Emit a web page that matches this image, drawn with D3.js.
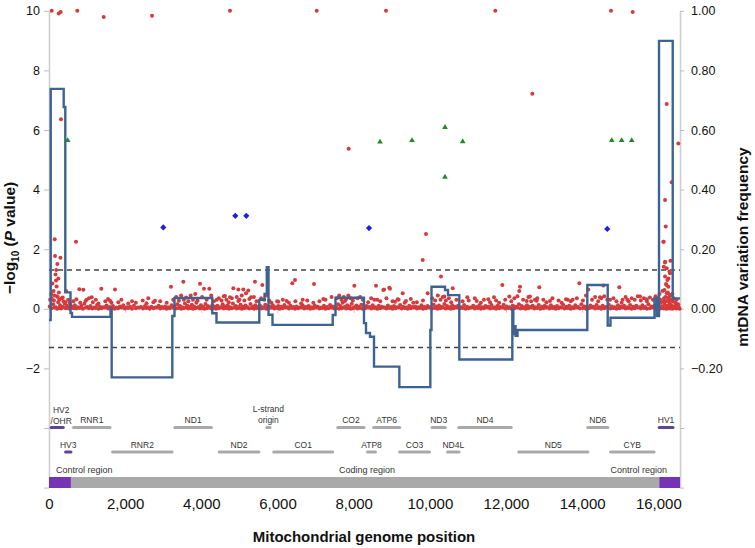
<!DOCTYPE html>
<html><head><meta charset="utf-8">
<script src="https://cdn.jsdelivr.net/npm/d3@7"></script>
<style>
body{margin:0;background:#fff}
svg{display:block}
text{font-family:"Liberation Sans",Arial,Helvetica,sans-serif}
</style>
</head><body>
<svg id="chart" width="755" height="548"></svg>
<script>
// ---------------- DATA ----------------
const genomeLength = 16569;
const xTickValues = [0, 2000, 4000, 6000, 8000, 10000, 12000, 14000, 16000];
const leftTickValues = [-6, -4, -2, 0, 2, 4, 6, 8, 10];
const rightTickValues = [-0.6, -0.4, -0.2, 0, 0.2, 0.4, 0.6, 0.8, 1.0];
const significanceLevel = 1.3; // -log10(0.05)

// scattered variant association points [position, -log10 P]
const scatterPoints = [
  [71,10.0],[255,9.91],[307,9.96],[743,10.0],[1436,9.79],[2705,9.83],[4753,10.0],[7030,10.0],
  [8849,10.0],[11719,10.0],[14757,10.0],[15327,9.96],
  [315,6.36],[7869,5.37],[12691,7.22],[16220,6.87],[16525,5.55],[16351,4.25],[16176,3.65],
  [16194,2.76],[16142,2.25],[16179,1.58],[16318,1.61],[16142,1.41],[16292,1.25],[16265,1.02],
  [16213,0.80],[16160,0.63],[16131,2.25],[16176,1.55],[16220,1.36],[16307,1.19],[16176,1.08],
  [16236,0.97],[16202,0.83],[16263,0.74],[16220,0.52],[16307,0.46],
  [150,2.33],[158,1.77],[300,1.71],[244,1.02],[709,2.25],[218,1.50],[184,0.95],[190,1.30],
  [30,0.30],[60,0.50],[90,0.85],[120,0.60],[140,0.45],[170,1.15],[200,0.75],[230,0.40],
  [260,0.55],[330,0.35],[380,0.25],[450,0.60],[500,0.30],[540,0.20],
  [9899,2.51],[9813,1.64],[10293,1.08],[5409,0.91],[5601,0.80],[6389,0.86],[6459,0.97],
  [6958,0.83],[8017,0.77],[8586,0.77],[8797,0.65],[8954,0.67],[9288,0.52],[10601,0.69],
  [11903,0.80],
  [796,0.66],[901,0.64],[1373,0.67],[1733,0.65],[3203,0.74],[3527,0.91],[3965,0.84],
  [4070,0.67],[4209,0.67],[4839,0.69],[4971,0.65],[1121,0.39],[990,0.30],[1602,0.27],
  [2607,0.35],[2783,0.27],
  [5102,0.65],[5173,0.52],[5233,0.61],[5304,0.39],[4753,0.39],[4621,0.43],[4403,0.30],
  [4971,0.26],[6021,0.24],[6662,0.30],[7203,0.33],[7772,0.26],[8542,0.30],[8778,0.63],
  [8936,0.71],[6241,0.26],
  [9086,0.24],[9156,0.32],[9374,0.26],[9566,0.20],[9944,0.52],[10380,0.41],[10984,0.39],
  [11231,0.26],[11535,0.32],[11685,0.39],[12087,0.41],[12368,0.74],[12349,0.60],[12630,0.41],
  [12543,0.26],[12806,0.27],
  [12874,0.72],[13925,0.86],[14161,0.65],[14555,0.78],[14975,0.72],[12761,0.30],[13155,0.26],
  [13575,0.32],[13751,0.30],[14468,0.39],[14731,0.30],[15185,0.30],[15519,0.41],[15695,0.32],
  [15038,0.20]
];

// variant points slightly above the baseline [position, -log10 P]
const bandUpperPoints = [
  [70,.35],[130,.28],[210,.42],[270,.3],[360,.38],[430,.22],[640,.25],[720,.32],[820,.2],[960,.26],
  [1050,.35],[1150,.22],[1230,.3],[1300,.18],[1480,.25],[1550,.33],[1640,.2],[1820,.22],[1900,.3],[2080,.18],
  [2180,.25],[2280,.2],[2460,.28],[2560,.19],[2740,.22],[2920,.25],[3090,.2],[3260,.3],[3340,.4],[3410,.27],
  [3470,.45],[3540,.3],[3600,.38],[3660,.25],[3720,.45],[3780,.3],[3840,.5],[3900,.28],[4020,.4],[4140,.3],
  [4260,.45],[4330,.25],[4460,.35],[4530,.28],[4590,.42],[4660,.3],[4720,.22],[4800,.35],[4930,.4],[5000,.3],
  [5060,.45],[5130,.28],[5260,.33],[5380,.4],[5450,.25],[5570,.35],[5650,.3],[5710,.45],[5780,.28],[5840,.2],
  [5990,.25],[6140,.3],[6300,.2],[6470,.25],[6620,.18],[6780,.28],[6940,.2],[7100,.25],[7260,.3],[7420,.4],
  [7560,.35],[7620,.45],[7680,.3],[7740,.4],[7800,.32],[7860,.45],[7920,.35],[7980,.28],[8100,.35],[8170,.4],
  [8240,.3],[8380,.22],[8460,.35],[8620,.3],[8700,.25],[8860,.35],[9020,.25],[9180,.3],[9340,.2],[9500,.33],
  [9660,.22],[9820,.28],[10060,.35],[10140,.28],[10210,.45],[10280,.3],[10340,.4],[10420,.28],[10500,.35],[10560,.22],
  [10700,.3],[10860,.25],[11020,.28],[11180,.35],[11340,.2],[11420,.3],[11580,.22],[11740,.28],[11820,.2],[11980,.3],
  [12140,.25],[12220,.35],[12300,.42],[12450,.3],[12590,.4],[12660,.25],[12820,.35],[12980,.3],[13060,.22],[13220,.35],
  [13380,.28],[13460,.2],[13620,.3],[13700,.25],[13860,.35],[14020,.28],[14100,.45],[14260,.3],[14340,.4],[14420,.25],
  [14500,.35],[14580,.42],[14660,.3],[14820,.35],[14900,.25],[15060,.3],[15140,.4],[15220,.25],[15300,.35],[15380,.3],
  [15460,.42],[15540,.28],[15620,.35],[15700,.25],[15780,.38],[15860,.3],[15930,.42],[15990,.35],[16030,.5],[16070,.2],
  [16110,.6],[16150,.35],[16210,.25],[16250,.55],[16280,.4],[16310,.15],[16340,.3],[16370,.5],[16400,.35],[16440,.22],
  [16480,.3],[16520,.15]
];

// dense near-zero band of variant points [position, -log10 P]
const bandPoints = [
  [20,.08],[110,.15],[180,.05],[240,.22],[290,.12],[350,.06],[410,.18],[470,.10],[520,.04],[560,.14],
  [610,.07],[680,.12],[760,.05],[850,.10],[930,.17],[1010,.06],[1090,.09],[1180,.04],[1260,.13],[1340,.07],
  [1420,.05],[1510,.11],[1590,.06],[1680,.09],[1770,.04],[1860,.08],[1950,.12],[2040,.05],[2130,.07],[2230,.10],
  [2330,.04],[2420,.06],[2520,.09],[2600,.05],[2690,.07],[2790,.04],[2880,.10],[2960,.06],[3050,.08],[3130,.05],
  [3220,.12],[3300,.07],[3370,.15],[3440,.09],[3500,.05],[3570,.18],[3630,.10],[3690,.06],[3750,.14],[3810,.08],
  [3870,.20],[3930,.05],[3990,.12],[4050,.07],[4110,.16],[4170,.09],[4230,.05],[4290,.13],[4350,.07],[4420,.10],
  [4490,.05],[4560,.15],[4620,.08],[4690,.12],[4760,.05],[4830,.18],[4900,.09],[4960,.06],[5030,.14],[5090,.07],
  [5160,.11],[5220,.05],[5290,.16],[5350,.08],[5420,.12],[5480,.06],[5540,.10],[5610,.05],[5680,.14],[5740,.08],
  [5810,.06],[5880,.12],[5950,.05],[6020,.09],[6100,.07],[6180,.13],[6260,.05],[6340,.10],[6420,.06],[6500,.08],
  [6580,.04],[6660,.12],[6740,.06],[6820,.09],[6900,.05],[6980,.11],[7060,.07],[7140,.04],[7220,.10],[7300,.06],
  [7380,.13],[7450,.08],[7520,.05],[7590,.15],[7650,.09],[7710,.20],[7770,.06],[7830,.12],[7890,.08],[7950,.17],
  [8010,.05],[8070,.11],[8130,.07],[8200,.14],[8270,.05],[8340,.09],[8420,.06],[8500,.12],[8580,.05],[8660,.10],
  [8740,.07],[8820,.04],[8900,.11],[8980,.06],[9060,.09],[9140,.05],[9220,.13],[9300,.07],[9380,.04],[9460,.10],
  [9540,.06],[9620,.08],[9700,.05],[9780,.12],[9860,.06],[9940,.09],[10020,.05],[10100,.14],[10170,.08],[10240,.11],
  [10310,.06],[10380,.16],[10450,.09],[10520,.05],[10590,.12],[10660,.07],[10740,.10],[10820,.05],[10900,.13],[10980,.07],
  [11060,.04],[11140,.10],[11220,.06],[11300,.12],[11380,.05],[11460,.09],[11540,.07],[11620,.13],[11700,.05],[11780,.10],
  [11860,.06],[11940,.14],[12020,.08],[12100,.05],[12180,.11],[12260,.07],[12340,.15],[12410,.09],[12480,.05],[12550,.12],
  [12620,.06],[12700,.10],[12780,.05],[12860,.13],[12940,.07],[13020,.10],[13100,.05],[13180,.12],[13260,.06],[13340,.09],
  [13420,.05],[13500,.14],[13580,.07],[13660,.10],[13740,.05],[13820,.12],[13900,.06],[13980,.15],[14060,.08],[14140,.05],
  [14220,.11],[14300,.07],[14380,.13],[14460,.05],[14540,.10],[14620,.06],[14700,.14],[14780,.08],[14860,.05],[14940,.12],
  [15020,.07],[15100,.10],[15180,.05],[15260,.13],[15340,.07],[15420,.10],[15500,.05],[15580,.12],[15660,.06],[15740,.15],
  [15820,.08],[15900,.11],[15960,.20],[16010,.12],[16050,.30],[16090,.08],[16130,.25],[16160,.15],[16190,.40],[16230,.10],
  [16260,.30],[16290,.20],[16320,.45],[16350,.12],[16380,.25],[16420,.08],[16460,.18],[16500,.10],[16540,.05]
];

// lowest near-zero band [position, -log10 P]
const bandLowPoints = [
  [65,.02],[145,.04],[210,0],[265,.03],[320,.01],[380,.05],[440,.02],[495,.03],[540,0],[585,.04],
  [645,.02],[720,.01],[805,.03],[890,0],[970,.04],[1050,.02],[1135,.01],[1220,.03],[1300,0],[1380,.02],
  [1465,.04],[1550,.01],[1635,.03],[1725,0],[1815,.02],[1905,.04],[1995,.01],[2085,.03],[2180,0],[2280,.02],
  [2375,.04],[2470,.01],[2560,.03],[2645,0],[2740,.02],[2835,.04],[2920,.01],[3005,.03],[3090,0],[3175,.02],
  [3260,.04],[3335,.01],[3405,.03],[3470,0],[3535,.02],[3600,.04],[3660,.01],[3720,.03],[3780,0],[3840,.02],
  [3900,.04],[3960,.01],[4020,.03],[4080,0],[4140,.02],[4200,.04],[4260,.01],[4320,.03],[4385,0],[4455,.02],
  [4525,.04],[4590,.01],[4655,.03],[4725,0],[4795,.02],[4865,.04],[4930,.01],[4995,.03],[5060,0],[5125,.02],
  [5190,.04],[5255,.01],[5320,.03],[5385,0],[5450,.02],[5510,.04],[5575,.01],[5645,.03],[5710,0],[5775,.02],
  [5845,.04],[5915,.01],[5985,.03],[6060,0],[6140,.02],[6220,.04],[6300,.01],[6380,.03],[6460,0],[6540,.02],
  [6620,.04],[6700,.01],[6780,.03],[6860,0],[6940,.02],[7020,.04],[7100,.01],[7180,.03],[7260,0],[7340,.02],
  [7415,.04],[7485,.01],[7555,.03],[7620,0],[7680,.02],[7740,.04],[7800,.01],[7860,.03],[7920,0],[7980,.02],
  [8040,.04],[8100,.01],[8165,.03],[8235,0],[8305,.02],[8380,.04],[8460,.01],[8540,.03],[8620,0],[8700,.02],
  [8780,.04],[8860,.01],[8940,.03],[9020,0],[9100,.02],[9180,.04],[9260,.01],[9340,.03],[9420,0],[9500,.02],
  [9580,.04],[9660,.01],[9740,.03],[9820,0],[9900,.02],[9980,.04],[10060,.01],[10135,.03],[10205,0],[10275,.02],
  [10345,.04],[10415,.01],[10485,.03],[10555,0],[10625,.02],[10700,.04],[10780,.01],[10860,.03],[10940,0],[11020,.02],
  [11100,.04],[11180,.01],[11260,.03],[11340,0],[11420,.02],[11500,.04],[11580,.01],[11660,.03],[11740,0],[11820,.02],
  [11900,.04],[11980,.01],[12060,.03],[12140,0],[12220,.02],[12300,.04],[12375,.01],[12445,.03],[12515,0],[12585,.02],
  [12660,.04],[12740,.01],[12820,.03],[12900,0],[12980,.02],[13060,.04],[13140,.01],[13220,.03],[13300,0],[13380,.02],
  [13460,.04],[13540,.01],[13620,.03],[13700,0],[13780,.02],[13860,.04],[13940,.01],[14020,.03],[14100,0],[14180,.02],
  [14260,.04],[14340,.01],[14420,.03],[14500,0],[14580,.02],[14660,.04],[14740,.01],[14820,.03],[14900,0],[14980,.02],
  [15060,.04],[15140,.01],[15220,.03],[15300,0],[15380,.02],[15460,.04],[15540,.01],[15620,.03],[15700,0],[15780,.02],
  [15860,.04],[15930,.01],[15985,.03],[16030,0],[16070,.02],[16110,.04],[16145,.01],[16175,.03],[16210,0],[16245,.02],
  [16275,.04],[16305,.01],[16335,.03],[16365,0],[16400,.02],[16440,.04],[16480,.01],[16520,.03],[16560,0]
];

// blue diamonds [position, -log10 P]
const diamondPoints = [[3001,2.73],[4892,3.12],[5181,3.12],[8403,2.71],[14660,2.68]];
// green triangles [position, -log10 P]
const trianglePoints = [[491,5.65],[8692,5.60],[9532,5.65],[10398,6.09],[10863,5.61],[10398,4.42],
  [14776,5.65],[15038,5.65],[15301,5.65]];

// mtDNA variation frequency difference (step line) [position, frequency]
const frequencySteps = [
  [0,-0.038],[45,0.738],[386,0.677],[428,0.055],[565,-0.014],[604,-0.027],[1615,0.002],[1646,-0.23],
  [3238,-0.024],[3295,0.036],[4288,-0.015],[4398,-0.046],[5522,0.030],[5659,0.05],[5719,0.14],[5764,-0.02],
  [5869,-0.054],[7450,-0.021],[7523,0.037],[8271,-0.048],[8324,-0.081],[8429,-0.094],[8534,-0.194],
  [9199,-0.263],[10013,-0.071],[10044,0.074],[10398,0.063],[10477,0.046],[10774,-0.170],[12166,-0.001],
  [12192,-0.085],[12224,-0.058],[12250,-0.091],[12302,-0.071],[14135,0.080],[14671,-0.056],[14744,-0.030],
  [15900,0.036],[15965,-0.024],[16018,0.899],[16378,0.035],[16569,0.035]
];

// gene map
const geneNames  = ["HV2/OHR","RNR1","ND1","L-strand origin","CO2","ATP6","ND3","ND4","ND6","HV1",
                    "HV3","RNR2","ND2","CO1","ATP8","CO3","ND4L","ND5","CYB"];
const geneStarts = [57,648,3307,5721,7586,8527,10059,10760,14149,16024,
                    438,1671,4470,5904,8366,9207,10470,12337,14747];
const geneEnds   = [372,1601,4262,5798,8269,9207,10404,12137,14673,16383,
                    574,3229,5511,7445,8572,9990,10766,14148,15887];
const geneRows   = [1,1,1,1,1,1,1,1,1,1, 2,2,2,2,2,2,2,2,2];
const geneIsControl = [true,false,false,false,false,false,false,false,false,true,
                       true,false,false,false,false,false,false,false,false];

const regionNames  = ["Control region","Coding region","Control region"];
const regionStarts = [0,576,16024];
const regionEnds   = [576,16024,16569];

// ---------------- CHART ----------------
const svg = d3.select("#chart");
const x = d3.scaleLinear().domain([0, genomeLength]).range([49, 680]);
const yL = d3.scaleLinear().domain([-6, 10]).range([487.6, 10.8]);
const yR = d3.scaleLinear().domain([-0.6, 1.0]).range([487.6, 10.8]);

const RED = "#d63a3c", BLUE_LINE = "#3d6392", GRAY = "#a9a9a9", PURPLE = "#7434b4", PURPLE_GENE = "#5e4595";

// left axis
const gl = svg.append("g").attr("transform", "translate(49,0)")
  .call(d3.axisLeft(yL).tickValues(leftTickValues).tickSize(5).tickSizeOuter(0).tickPadding(4)
    .tickFormat(d => d >= -2 ? d3.format("d")(d) : ""));
gl.select(".domain").attr("stroke", "#cfcfcf").attr("stroke-width", 1.6);
gl.selectAll(".tick line").attr("stroke", "#bdbdbd");
gl.selectAll(".tick text").attr("font-size", 12.5).attr("fill", "#111");

// right axis
const gr = svg.append("g").attr("transform", "translate(680,0)")
  .call(d3.axisRight(yR).tickValues(rightTickValues).tickSize(4).tickSizeOuter(0).tickPadding(7)
    .tickFormat(d => d >= -0.21 ? d3.format(".2f")(d) : ""));
gr.select(".domain").attr("stroke", "#cfcfcf").attr("stroke-width", 1.6);
gr.selectAll(".tick line").attr("stroke", "#bdbdbd");
gr.selectAll(".tick text").attr("font-size", 12.5).attr("fill", "#111");

// zero axis with small ticks
const gz = svg.append("g").attr("transform", `translate(0,${yL(0)})`)
  .call(d3.axisBottom(x).tickValues(xTickValues).tickSize(4).tickSizeOuter(0).tickFormat(""));
gz.select(".domain").attr("stroke", "#d4d4d4").attr("stroke-width", 1);
gz.selectAll(".tick line").attr("stroke", "#c8c8c8");

// bottom tick labels
const gb = svg.append("g").attr("transform", "translate(0,488)")
  .call(d3.axisBottom(x).tickValues(xTickValues).tickSize(0).tickPadding(10)
    .tickFormat(d3.format(",")));
gb.select(".domain").remove();
gb.selectAll(".tick text").attr("font-size", 15).attr("fill", "#111");

// significance lines
svg.append("g").selectAll("line").data([significanceLevel, -significanceLevel]).join("line")
  .attr("x1", x(0)).attr("x2", x(genomeLength))
  .attr("y1", d => yL(d)).attr("y2", d => yL(d))
  .attr("stroke", "#444").attr("stroke-width", 1.4).attr("stroke-dasharray", "5,4");

// red variant points
const allPoints = bandLowPoints.concat(bandPoints, bandUpperPoints, scatterPoints);
svg.append("g").selectAll("circle").data(allPoints).join("circle")
  .attr("cx", d => x(d[0])).attr("cy", d => yL(d[1])).attr("r", 2)
  .attr("fill", RED);

// frequency step line
svg.append("path").datum(frequencySteps)
  .attr("d", d3.line().x(d => x(d[0])).y(d => yR(d[1])).curve(d3.curveStepAfter))
  .attr("fill", "none").attr("stroke", BLUE_LINE).attr("stroke-width", 2.4)
  .attr("stroke-linejoin", "miter");

// diamonds (rotated squares)
svg.append("g").selectAll("path").data(diamondPoints).join("path")
  .attr("transform", d => `translate(${x(d[0])},${yL(d[1])}) rotate(45)`)
  .attr("d", d3.symbol(d3.symbolSquare, 19))
  .attr("fill", "#1a22e0");

// triangles
svg.append("g").selectAll("path").data(trianglePoints).join("path")
  .attr("transform", d => `translate(${x(d[0])},${yL(d[1])})`)
  .attr("d", d3.symbol(d3.symbolTriangle, 14))
  .attr("fill", "#1f8a22");

// gene map
const genes = geneNames.map((n, i) => ({name: n, s: geneStarts[i], e: geneEnds[i], row: geneRows[i], ctrl: geneIsControl[i]}));
const rowBarY = {1: 427.5, 2: 452};
const rowLabelY = {1: 423, 2: 448};
const gm = svg.append("g");
gm.selectAll("line").data(genes).join("line")
  .attr("x1", d => x(d.s)).attr("x2", d => Math.max(x(d.e), x(d.s) + 2))
  .attr("y1", d => rowBarY[d.row]).attr("y2", d => rowBarY[d.row])
  .attr("stroke", d => d.ctrl ? PURPLE_GENE : GRAY).attr("stroke-width", 3.2)
  .attr("stroke-linecap", "round");
gm.selectAll("text").data(genes).join("text")
  .attr("x", d => x((d.s + d.e) / 2)).attr("y", d => rowLabelY[d.row])
  .attr("text-anchor", "middle").attr("font-size", 8.5).attr("fill", "#333")
  .each(function(d) {
    const t = d3.select(this);
    if (d.name === "HV2/OHR") {
      t.attr("y", rowLabelY[1] - 10);
      t.append("tspan").attr("x", x(d.s) + 10).text("HV2");
      t.append("tspan").attr("x", x(d.s) + 10).attr("dy", 10.5).text("/OHR");
    } else if (d.name === "L-strand origin") {
      t.attr("y", rowLabelY[1] - 11);
      t.append("tspan").attr("x", x((d.s + d.e) / 2)).text("L-strand");
      t.append("tspan").attr("x", x((d.s + d.e) / 2)).attr("dy", 11).text("origin");
    } else {
      t.text(d.name);
    }
  });

// genome region bar
const regions = regionNames.map((n, i) => ({name: n, s: regionStarts[i], e: regionEnds[i]}));
svg.append("g").selectAll("rect").data(regions).join("rect")
  .attr("x", d => x(d.s)).attr("width", d => x(d.e) - x(d.s))
  .attr("y", 477).attr("height", 11)
  .attr("fill", d => d.name === "Coding region" ? GRAY : PURPLE);
svg.append("g").selectAll("text").data(regions).join("text")
  .attr("x", (d, i) => i === 0 ? x(d.s) + 7 : i === 2 ? x(d.e) - 13 : x(8350))
  .attr("text-anchor", (d, i) => i === 0 ? "start" : i === 2 ? "end" : "middle")
  .attr("y", 473).attr("font-size", 9).attr("fill", "#333")
  .text(d => d.name);

// axis titles
const lt = svg.append("text").attr("transform", "translate(15,238) rotate(-90)")
  .attr("text-anchor", "middle").attr("font-size", 15.5).attr("font-weight", "bold").attr("fill", "#111");
lt.append("tspan").text("\u2212log");
lt.append("tspan").attr("font-size", 10).attr("dy", 4).text("10");
lt.append("tspan").attr("dy", -4).text(" (");
lt.append("tspan").attr("font-style", "italic").text("P");
lt.append("tspan").text(" value)");

svg.append("text").attr("transform", "translate(748,247) rotate(-90)")
  .attr("text-anchor", "middle").attr("font-size", 15.5).attr("font-weight", "bold").attr("fill", "#111")
  .text("mtDNA variation frequency");

svg.append("text").attr("x", 364).attr("y", 542)
  .attr("text-anchor", "middle").attr("font-size", 15).attr("font-weight", "bold").attr("fill", "#111")
  .text("Mitochondrial genome position");
</script>
</body></html>
